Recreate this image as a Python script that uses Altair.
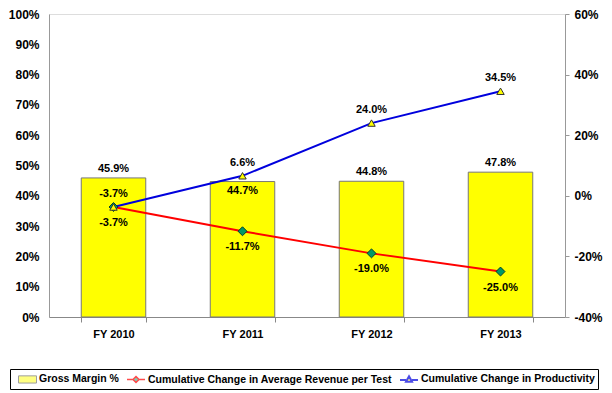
import altair as alt
import pandas as pd

years = ["FY 2010", "FY 2011", "FY 2012", "FY 2013"]
gross_margin = [45.9, 44.7, 44.8, 47.8]
avg_revenue_change = [-3.7, -11.7, -19.0, -25.0]
productivity_change = [-3.7, 6.6, 24.0, 34.5]
series_names = [
    "Gross Margin %",
    "Cumulative Change in Average Revenue per Test",
    "Cumulative Change in Productivity",
]

FONT = "Liberation Sans"

bars_df = pd.DataFrame({"year": years, "value": gross_margin})
rev_df = pd.DataFrame({"year": years, "value": avg_revenue_change})
prod_df = pd.DataFrame({"year": years, "value": productivity_change})
legend_df = pd.DataFrame({"series": series_names})

x_enc = alt.X(
    "year:N",
    sort=years,
    title=None,
    scale=alt.Scale(paddingInner=0.5, paddingOuter=0.25),
    axis=alt.Axis(
        labelAngle=0, tickBand="extent", tickSize=5, tickColor="#888888",
        domainColor="#888888", labelFontSize=11, labelFontWeight="bold",
        labelPadding=6, labelColor="black", grid=False,
    ),
)

y_left = alt.Y(
    "value:Q",
    scale=alt.Scale(domain=[0, 100], nice=False),
    axis=alt.Axis(
        values=list(range(0, 101, 10)), labelExpr="datum.value + '%'",
        ticks=False, grid=False, title=None, labelFontSize=12,
        labelFontWeight="bold", labelPadding=10, domainColor="#999999",
        labelColor="black",
    ),
)

y_right = alt.Y(
    "value:Q",
    scale=alt.Scale(domain=[-40, 60], nice=False),
    axis=alt.Axis(
        orient="right", values=[-40, -20, 0, 20, 40, 60],
        labelExpr="datum.value + '%'", ticks=True, tickSize=4,
        tickColor="#999999", grid=False, title=None, labelFontSize=12,
        labelFontWeight="bold", labelPadding=5, domainColor="#999999",
        labelColor="black",
    ),
)

label_calc = "(datum.value < 0 ? '-' : '') + format(abs(datum.value), '.1f') + '%'"

bars = alt.Chart(bars_df).mark_bar(
    color="#FFFF00", stroke="#777777", strokeWidth=1
).encode(x=x_enc, y=y_left)

bar_text_above = alt.Chart(bars_df).transform_filter(
    "datum.year != 'FY 2011'"
).transform_calculate(label=label_calc).mark_text(
    font=FONT, fontSize=11, fontWeight="bold", dy=-9, color="black"
).encode(x=x_enc, y=y_left, text="label:N")

bar_text_inside = alt.Chart(bars_df).transform_filter(
    "datum.year == 'FY 2011'"
).transform_calculate(label=label_calc).mark_text(
    font=FONT, fontSize=11, fontWeight="bold", dy=9, color="black"
).encode(x=x_enc, y=y_left, text="label:N")

left = alt.layer(bars, bar_text_above, bar_text_inside)

rev_line = alt.Chart(rev_df).mark_line(color="#FF0000", strokeWidth=2).encode(
    x=x_enc, y=y_right
)
rev_pts = alt.Chart(rev_df).mark_point(
    shape="diamond", filled=True, fill="#009966", stroke="#00402A",
    strokeWidth=1, size=80, opacity=1,
).encode(x=x_enc, y=y_right)
rev_text = alt.Chart(rev_df).transform_calculate(label=label_calc).mark_text(
    font=FONT, fontSize=11, fontWeight="bold", dy=16, color="black"
).encode(x=x_enc, y=y_right, text="label:N")

prod_line = alt.Chart(prod_df).mark_line(color="#0000DD", strokeWidth=2).encode(
    x=x_enc, y=y_right
)
prod_pts = alt.Chart(prod_df).mark_point(
    shape="triangle-up", filled=True, fill="#FFFF00", stroke="#333333",
    strokeWidth=1, size=55, opacity=1,
).encode(x=x_enc, y=y_right)
prod_text = alt.Chart(prod_df).transform_calculate(label=label_calc).mark_text(
    font=FONT, fontSize=11, fontWeight="bold", dy=-13, color="black"
).encode(x=x_enc, y=y_right, text="label:N")

bar_path = "M-1.5,-0.6H1.5V0.6H-1.5Z"
diamond_path = "M-1.5,0H-0.5M0.5,0H1.5M0,-0.5L0.5,0L0,0.5L-0.5,0Z"
triangle_path = "M-1.5,0.1H-0.5M0.5,0.1H1.5M0,-0.5L0.5,0.4L-0.5,0.4Z"

legend_def = alt.Legend(
    title=None, orient="none", direction="horizontal", legendX=-39,
    legendY=355, symbolSize=144, labelFontSize=10.5, labelFontWeight="bold",
    labelFont=FONT, labelColor="black", labelLimit=400, labelOffset=5,
    columnPadding=2, strokeColor="#000000", fillColor="#FFFFFF",
    padding=3, symbolOffset=8,
)

legend_layer = alt.Chart(legend_df).mark_point(size=0, filled=True).encode(
    x=alt.value(0),
    y=alt.value(0),
    shape=alt.Shape("series:N", sort=series_names,
                    scale=alt.Scale(domain=series_names,
                                    range=[bar_path, diamond_path, triangle_path]),
                    legend=legend_def),
    fill=alt.Fill("series:N", sort=series_names,
                  scale=alt.Scale(domain=series_names,
                                  range=["#FFFF00", "#009966", "#FFFF00"]),
                  legend=legend_def),
    stroke=alt.Stroke("series:N", sort=series_names,
                      scale=alt.Scale(domain=series_names,
                                      range=["#777777", "#FF0000", "#0000DD"]),
                      legend=legend_def),
    strokeWidth=alt.StrokeWidth("series:N", sort=series_names,
                                scale=alt.Scale(domain=series_names,
                                                range=[1, 2, 2]),
                                legend=legend_def),
)

right = alt.layer(rev_line, prod_line, rev_pts, prod_pts, rev_text, prod_text,
                  legend_layer)

chart = alt.layer(left, right).resolve_scale(y="independent").properties(
    width=516, height=303,
    padding={"left": 0, "top": 0, "right": 0, "bottom": 0},
).configure_view(stroke=None).configure(font=FONT)

chart.save("out.html", embed_options={"renderer": "svg", "actions": False})
